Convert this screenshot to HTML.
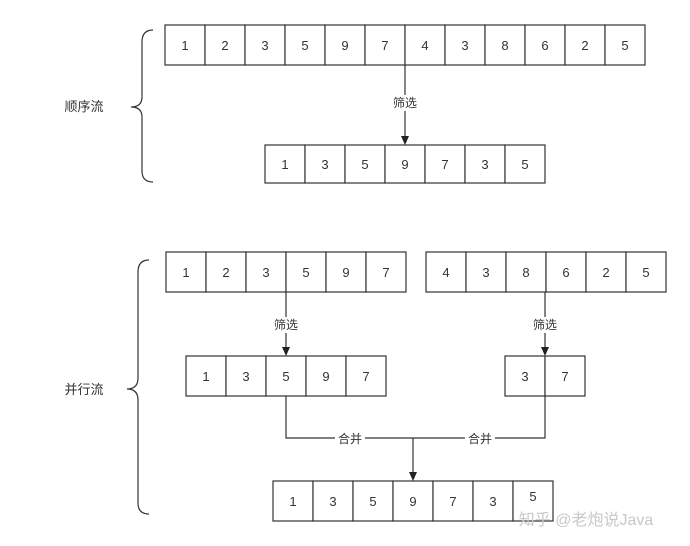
<!DOCTYPE html>
<html><head><meta charset="utf-8"><style>
html,body{margin:0;padding:0;background:#fff;width:690px;height:546px;overflow:hidden}
svg text{font-family:"Liberation Sans","Noto Sans CJK SC",sans-serif;fill:#333}
.c rect{fill:#fff;stroke:#333;stroke-width:1.2}
.c text{font-size:13px;text-anchor:middle}
</style></head><body>
<svg width="690" height="546" viewBox="0 0 690 546" xmlns="http://www.w3.org/2000/svg">
<g stroke="#333" stroke-width="1.2" fill="none">
<path d="M153,30 Q142,30 142,42 L142,97 Q142,107 131,107 Q142,107 142,117 L142,171 Q142,182 153,182"/>
<path d="M149,260 Q138,260 138,272 L138,378 Q138,389 127,389 Q138,389 138,400 L138,503 Q138,514 149,514"/>
<line x1="405" y1="65" x2="405" y2="137"/>
<line x1="286" y1="292" x2="286" y2="348"/>
<line x1="545" y1="292" x2="545" y2="348"/>
<path d="M286,396 L286,438 L545,438 L545,396"/>
<line x1="413" y1="438" x2="413" y2="473"/>
</g>
<g class="c">
<g transform="translate(165,25)"><rect x="0" width="40" height="40"/><text x="20" y="25">1</text><rect x="40" width="40" height="40"/><text x="60" y="25">2</text><rect x="80" width="40" height="40"/><text x="100" y="25">3</text><rect x="120" width="40" height="40"/><text x="140" y="25">5</text><rect x="160" width="40" height="40"/><text x="180" y="25">9</text><rect x="200" width="40" height="40"/><text x="220" y="25">7</text><rect x="240" width="40" height="40"/><text x="260" y="25">4</text><rect x="280" width="40" height="40"/><text x="300" y="25">3</text><rect x="320" width="40" height="40"/><text x="340" y="25">8</text><rect x="360" width="40" height="40"/><text x="380" y="25">6</text><rect x="400" width="40" height="40"/><text x="420" y="25">2</text><rect x="440" width="40" height="40"/><text x="460" y="25">5</text></g>
<g transform="translate(265,145)"><rect x="0" width="40" height="38"/><text x="20" y="24">1</text><rect x="40" width="40" height="38"/><text x="60" y="24">3</text><rect x="80" width="40" height="38"/><text x="100" y="24">5</text><rect x="120" width="40" height="38"/><text x="140" y="24">9</text><rect x="160" width="40" height="38"/><text x="180" y="24">7</text><rect x="200" width="40" height="38"/><text x="220" y="24">3</text><rect x="240" width="40" height="38"/><text x="260" y="24">5</text></g>
<g transform="translate(166,252)"><rect x="0" width="40" height="40"/><text x="20" y="25">1</text><rect x="40" width="40" height="40"/><text x="60" y="25">2</text><rect x="80" width="40" height="40"/><text x="100" y="25">3</text><rect x="120" width="40" height="40"/><text x="140" y="25">5</text><rect x="160" width="40" height="40"/><text x="180" y="25">9</text><rect x="200" width="40" height="40"/><text x="220" y="25">7</text></g>
<g transform="translate(426,252)"><rect x="0" width="40" height="40"/><text x="20" y="25">4</text><rect x="40" width="40" height="40"/><text x="60" y="25">3</text><rect x="80" width="40" height="40"/><text x="100" y="25">8</text><rect x="120" width="40" height="40"/><text x="140" y="25">6</text><rect x="160" width="40" height="40"/><text x="180" y="25">2</text><rect x="200" width="40" height="40"/><text x="220" y="25">5</text></g>
<g transform="translate(186,356)"><rect x="0" width="40" height="40"/><text x="20" y="25">1</text><rect x="40" width="40" height="40"/><text x="60" y="25">3</text><rect x="80" width="40" height="40"/><text x="100" y="25">5</text><rect x="120" width="40" height="40"/><text x="140" y="25">9</text><rect x="160" width="40" height="40"/><text x="180" y="25">7</text></g>
<g transform="translate(505,356)"><rect x="0" width="40" height="40"/><text x="20" y="25">3</text><rect x="40" width="40" height="40"/><text x="60" y="25">7</text></g>
<g transform="translate(273,481)"><rect x="0" width="40" height="40"/><text x="20" y="25">1</text><rect x="40" width="40" height="40"/><text x="60" y="25">3</text><rect x="80" width="40" height="40"/><text x="100" y="25">5</text><rect x="120" width="40" height="40"/><text x="140" y="25">9</text><rect x="160" width="40" height="40"/><text x="180" y="25">7</text><rect x="200" width="40" height="40"/><text x="220" y="25">3</text><rect x="240" width="40" height="40"/><text x="260" y="20">5</text></g>
</g>
<g fill="#222">
<path d="M401,136 L409,136 L405,145 z"/>
<path d="M282,347 L290,347 L286,356 z"/>
<path d="M541,347 L549,347 L545,356 z"/>
<path d="M409,472 L417,472 L413,481 z"/>
</g>
<g font-size="12" text-anchor="middle">
<rect x="390" y="95" width="30" height="16" fill="#fff"/><text x="405" y="107">筛选</text>
<rect x="271" y="317" width="30" height="16" fill="#fff"/><text x="286" y="329">筛选</text>
<rect x="530" y="317" width="30" height="16" fill="#fff"/><text x="545" y="329">筛选</text>
<rect x="335" y="431" width="30" height="16" fill="#fff"/><text x="350" y="443">合并</text>
<rect x="465" y="431" width="30" height="16" fill="#fff"/><text x="480" y="443">合并</text>
<text x="84" y="111" font-size="13">顺序流</text>
<text x="84" y="394" font-size="13">并行流</text>
</g>
<text x="586" y="525" font-size="16" text-anchor="middle" style="fill:#c8c8c8">知乎 @老炮说Java</text>
</svg>
</body></html>
